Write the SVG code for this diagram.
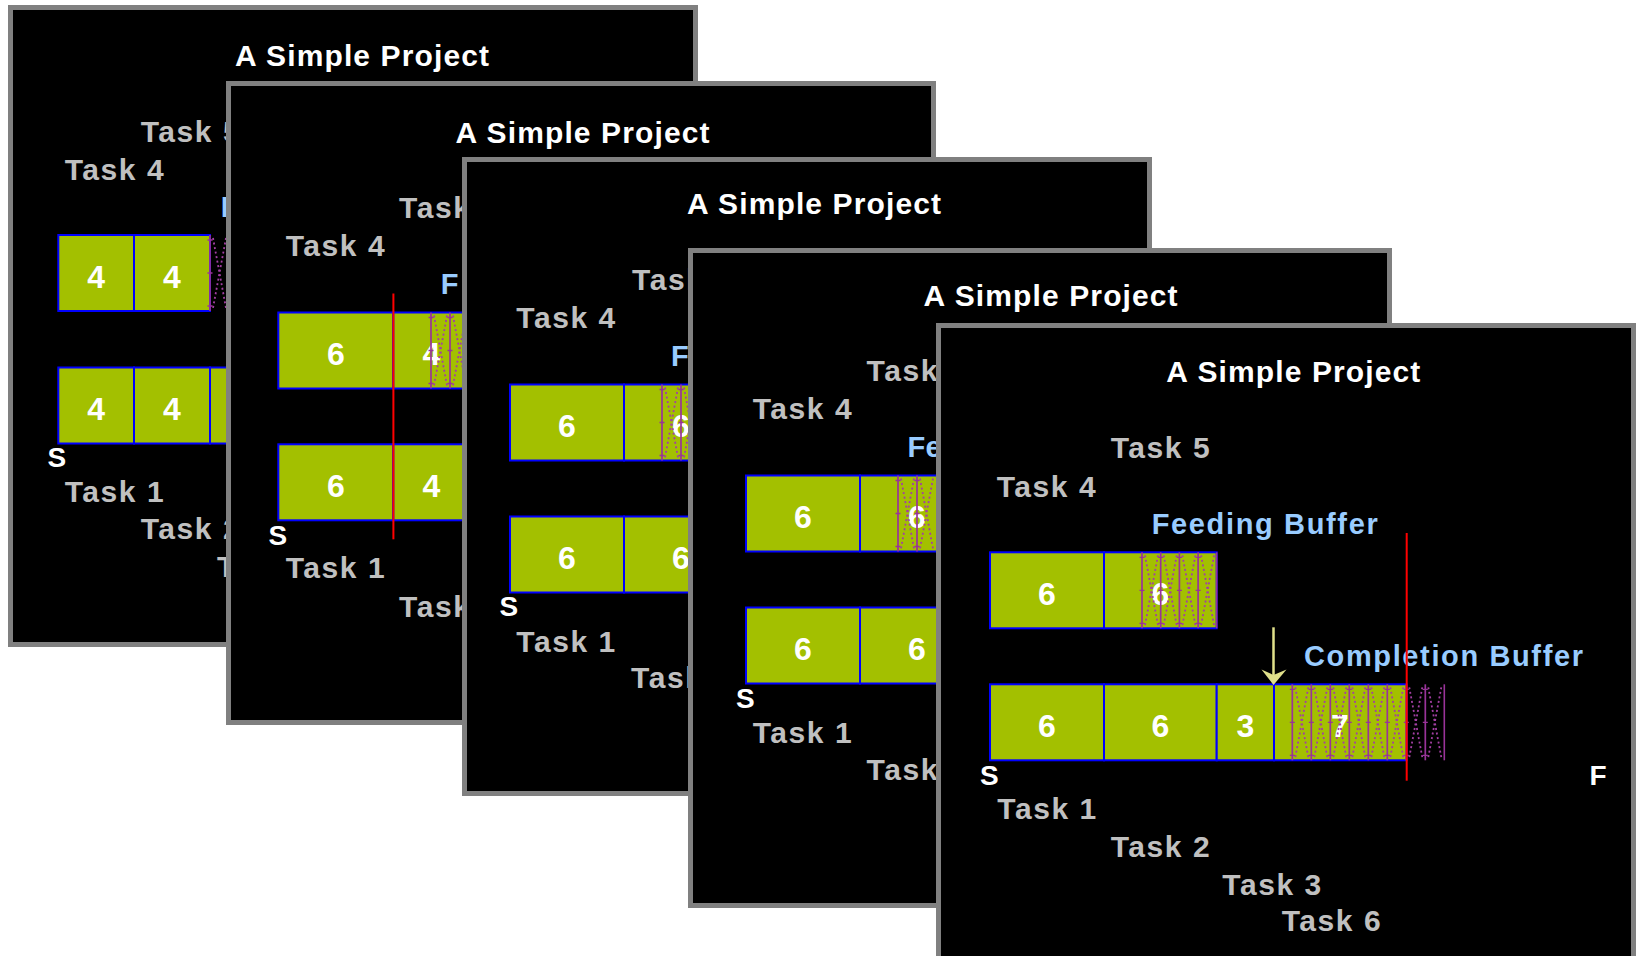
<svg xmlns="http://www.w3.org/2000/svg" width="1638" height="956" viewBox="0 0 1638 956">
  <style>
    .frame { fill: #000; stroke: #808080; stroke-width: 5; }
    text { font-family: "Liberation Sans", Arial, sans-serif; font-weight: bold; }
    .title { font-size: 30px; fill: #fff; }
    .task { font-size: 30px; fill: #c0c0c0; }
    .buf { font-size: 29px; fill: #99ccff; }
    .num { font-size: 32px; fill: #fff; text-anchor: middle; }
    .sf { font-size: 28px; fill: #fff; }
    .cell { fill: #a3c000; stroke: #0000ff; stroke-width: 2; }
    .red { stroke: #ff0000; stroke-width: 2; }
    .hline { stroke: #993399; stroke-width: 1.6; }
  </style>
  <defs>
    <!-- one unit of buffer hatching: solid post, dotted cross, tick marks -->
    <g id="hu">
      <line x1="0" y1="0" x2="0" y2="76" stroke="#993399" stroke-width="1.7"/>
      <path d="M3 3 L16 73 M16 3 L3 73" stroke="#a33fa3" stroke-width="1.8" stroke-dasharray="2 2.6" fill="none"/>
      <path d="M-2.5 5 H2.5 M-2.5 38 H2.5 M-2.5 71 H2.5" stroke="#993399" stroke-width="1.3"/>
    </g>
  </defs>
  <rect width="1638" height="956" fill="#fff"/>

  <!-- step 1 -->
  <g id="panel-1">
    <rect class="frame" x="10.5" y="7.5" width="685" height="637"/>
    <text class="title" x="235" y="65.7" textLength="254" lengthAdjust="spacing">A Simple Project</text>
    <text class="task" x="140.7" y="141.7" textLength="99" lengthAdjust="spacing">Task 5</text>
    <text class="task" x="64.7" y="179.5" textLength="99" lengthAdjust="spacing">Task 4</text>
    <text class="buf" x="220.7" y="216.7">F</text>
    <rect class="cell" x="58.3" y="235" width="75.7" height="76"/>
    <rect class="cell" x="134" y="235" width="76" height="76"/>
    <text class="num" x="96.2" y="287.5">4</text>
    <text class="num" x="172" y="287.5">4</text>
    <use href="#hu" x="210" y="235"/>
    <use href="#hu" x="229" y="235"/>
    <rect class="cell" x="58.3" y="367.5" width="75.7" height="76"/>
    <rect class="cell" x="134" y="367.5" width="76" height="76"/>
    <rect class="cell" x="210" y="367.5" width="76" height="76"/>
    <text class="num" x="96.2" y="420">4</text>
    <text class="num" x="172" y="420">4</text>
    <text class="sf" x="47.5" y="467.3">S</text>
    <text class="task" x="64.7" y="501.7" textLength="99" lengthAdjust="spacing">Task 1</text>
    <text class="task" x="140.7" y="539.3" textLength="99" lengthAdjust="spacing">Task 2</text>
    <text class="task" x="217" y="577">T</text>
  </g>

  <!-- step 2 -->
  <g id="panel-2">
    <rect class="frame" x="228.5" y="83.5" width="705" height="639"/>
    <text class="title" x="455.5" y="143" textLength="254" lengthAdjust="spacing">A Simple Project</text>
    <text class="task" x="399" y="218.3" textLength="99" lengthAdjust="spacing">Task 5</text>
    <text class="task" x="285.7" y="256" textLength="99" lengthAdjust="spacing">Task 4</text>
    <text class="buf" x="440.7" y="293.5">F</text>
    <rect class="cell" x="278.3" y="312.5" width="115" height="76"/>
    <rect class="cell" x="393.3" y="312.5" width="76" height="76"/>
    <text class="num" x="335.8" y="364.8">6</text>
    <text class="num" x="431.3" y="364.8">4</text>
    <use href="#hu" x="431" y="312.5"/>
    <use href="#hu" x="450" y="312.5"/>
    <rect class="cell" x="278.3" y="444.3" width="115" height="76"/>
    <rect class="cell" x="393.3" y="444.3" width="76" height="76"/>
    <text class="num" x="335.8" y="496.8">6</text>
    <text class="num" x="431.3" y="496.8">4</text>
    <line class="red" x1="393.4" y1="293.5" x2="393.4" y2="539.3"/>
    <text class="sf" x="268.5" y="545">S</text>
    <text class="task" x="285.7" y="578.3" textLength="99" lengthAdjust="spacing">Task 1</text>
    <text class="task" x="399" y="616.7" textLength="99" lengthAdjust="spacing">Task 2</text>
  </g>

  <!-- step 3 -->
  <g id="panel-3">
    <rect class="frame" x="464.5" y="159.5" width="685" height="634"/>
    <text class="title" x="687" y="214" textLength="254" lengthAdjust="spacing">A Simple Project</text>
    <text class="task" x="632" y="290" textLength="99" lengthAdjust="spacing">Task 5</text>
    <text class="task" x="516.3" y="328" textLength="99" lengthAdjust="spacing">Task 4</text>
    <text class="buf" x="671" y="366">F</text>
    <rect class="cell" x="510" y="384.5" width="114" height="76"/>
    <rect class="cell" x="624" y="384.5" width="114" height="76"/>
    <text class="num" x="567" y="437">6</text>
    <text class="num" x="681" y="437">6</text>
    <use href="#hu" x="662" y="384.5"/>
    <use href="#hu" x="681" y="384.5"/>
    <rect class="cell" x="510" y="516.5" width="114" height="76"/>
    <rect class="cell" x="624" y="516.5" width="114" height="76"/>
    <text class="num" x="567" y="569">6</text>
    <text class="num" x="681" y="569">6</text>
    <text class="sf" x="499.5" y="616">S</text>
    <text class="task" x="516.3" y="651.6" textLength="99" lengthAdjust="spacing">Task 1</text>
    <text class="task" x="631" y="688" textLength="99" lengthAdjust="spacing">Task 2</text>
  </g>

  <!-- step 4 -->
  <g id="panel-4">
    <rect class="frame" x="690.5" y="250.5" width="699" height="655"/>
    <text class="title" x="923.6" y="306" textLength="254" lengthAdjust="spacing">A Simple Project</text>
    <text class="task" x="866.5" y="381" textLength="99" lengthAdjust="spacing">Task 5</text>
    <text class="task" x="752.7" y="418.7" textLength="99" lengthAdjust="spacing">Task 4</text>
    <text class="buf" x="907.6" y="456.8" textLength="34" lengthAdjust="spacing">Fe</text>
    <rect class="cell" x="746" y="475.5" width="114" height="76"/>
    <rect class="cell" x="860" y="475.5" width="114" height="76"/>
    <text class="num" x="803" y="528">6</text>
    <text class="num" x="917" y="528">6</text>
    <use href="#hu" x="898" y="475.5"/>
    <use href="#hu" x="917" y="475.5"/>
    <rect class="cell" x="746" y="607.5" width="114" height="76"/>
    <rect class="cell" x="860" y="607.5" width="114" height="76"/>
    <text class="num" x="803" y="660">6</text>
    <text class="num" x="917" y="660">6</text>
    <text class="sf" x="736" y="707.5">S</text>
    <text class="task" x="752.7" y="743" textLength="99" lengthAdjust="spacing">Task 1</text>
    <text class="task" x="866.5" y="780" textLength="99" lengthAdjust="spacing">Task 2</text>
  </g>

  <!-- step 5: full schedule with both buffers -->
  <g id="panel-5">
    <rect class="frame" x="938.5" y="325.5" width="695" height="695"/>
    <text class="title" x="1166.3" y="381.7" textLength="254" lengthAdjust="spacing">A Simple Project</text>
    <text class="task" x="1110.7" y="457.7" textLength="99" lengthAdjust="spacing">Task 5</text>
    <text class="task" x="996.7" y="496.7" textLength="99" lengthAdjust="spacing">Task 4</text>
    <text class="buf" x="1151.7" y="534" textLength="226" lengthAdjust="spacing">Feeding Buffer</text>
    <rect class="cell" x="990" y="552.3" width="114" height="76"/>
    <rect class="cell" x="1104" y="552.3" width="112.7" height="76"/>
    <text class="num" x="1047" y="605">6</text>
    <text class="num" x="1160.3" y="605">6</text>
    <use href="#hu" x="1142" y="552.3"/>
    <use href="#hu" x="1160.7" y="552.3"/>
    <use href="#hu" x="1179.4" y="552.3"/>
    <use href="#hu" x="1198.1" y="552.3"/>
    <line class="hline" x1="1216.7" y1="552.3" x2="1216.7" y2="628.3"/>
    <text class="buf" x="1304" y="665.7" textLength="279" lengthAdjust="spacing">Completion Buffer</text>
    <rect class="cell" x="990" y="684.3" width="114" height="76"/>
    <rect class="cell" x="1104" y="684.3" width="112.7" height="76"/>
    <rect class="cell" x="1216.7" y="684.3" width="57.3" height="76"/>
    <rect class="cell" x="1274" y="684.3" width="132.7" height="76"/>
    <text class="num" x="1047" y="737">6</text>
    <text class="num" x="1160.3" y="737">6</text>
    <text class="num" x="1245.3" y="737">3</text>
    <text class="num" x="1340" y="737">7</text>
    <use href="#hu" x="1292.3" y="684.3"/>
    <use href="#hu" x="1311.3" y="684.3"/>
    <use href="#hu" x="1330.3" y="684.3"/>
    <use href="#hu" x="1349.3" y="684.3"/>
    <use href="#hu" x="1368.3" y="684.3"/>
    <use href="#hu" x="1387.3" y="684.3"/>
    <use href="#hu" x="1406.3" y="684.3"/>
    <use href="#hu" x="1425.3" y="684.3"/>
    <line class="hline" x1="1444.3" y1="684.3" x2="1444.3" y2="760.3"/>
    <line class="red" x1="1406.7" y1="533" x2="1406.7" y2="780.7"/>
    <text class="sf" x="980" y="785">S</text>
    <text class="sf" x="1589.5" y="785">F</text>
    <text class="task" x="997.3" y="819.3" textLength="99" lengthAdjust="spacing">Task 1</text>
    <text class="task" x="1110.7" y="856.7" textLength="99" lengthAdjust="spacing">Task 2</text>
    <text class="task" x="1222.3" y="895" textLength="99" lengthAdjust="spacing">Task 3</text>
    <text class="task" x="1281.7" y="931" textLength="99" lengthAdjust="spacing">Task 6</text>
  </g>

  <!-- pointer to the buffer-consumption point -->
  <g id="connectors">
    <line x1="1273.5" y1="627.3" x2="1273.5" y2="676" stroke="#e0e08a" stroke-width="2.5"/>
    <polygon points="1273.5,685 1261.5,669.5 1273.5,675 1286.5,669.5" fill="#e0e08a"/>
  </g>
</svg>
